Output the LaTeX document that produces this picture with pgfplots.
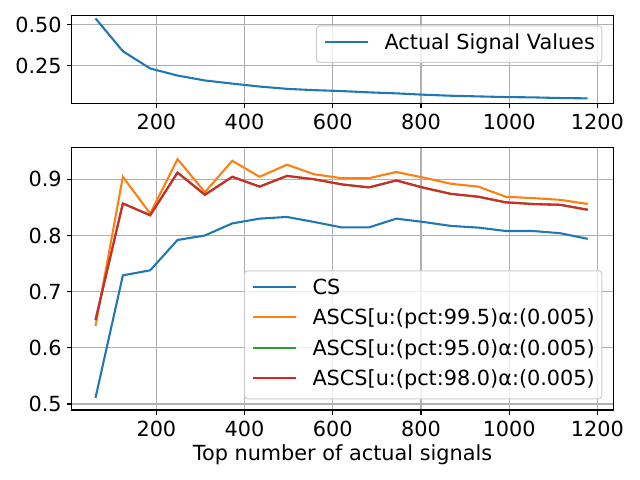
\documentclass[border=0pt]{standalone}
\usepackage{fontspec}
\setmainfont{DejaVu Sans}
\usepackage{pgfplots}
\pgfplotsset{compat=1.18}
\definecolor{c0}{HTML}{1F77B4}
\definecolor{c1}{HTML}{FF7F0E}
\definecolor{c2}{HTML}{2CA02C}
\definecolor{c3}{HTML}{D62728}
\definecolor{gridc}{HTML}{B0B0B0}
\definecolor{legc}{HTML}{CCCCCC}

\pgfplotsset{
  mystyle/.style={
    scale only axis, width=541.6bp, anchor=south west,
    xmin=8, xmax=1236,
    axis line style={black, line width=1.1bp},
    tick align=outside, major tick length=4.86bp,
    tick style={black, line width=1.1bp},
    xtick={200,400,600,800,1000,1200},
    xtick pos=left, ytick pos=left,
    grid=major, major grid style={gridc, line width=1.1bp},
    /pgf/number format/assume math mode=true,
    xticklabel style={/pgf/number format/1000 sep={}, inner sep=0pt, anchor=north, yshift=-5.84bp},
    yticklabel style={inner sep=0pt, anchor=east, xshift=-4.94bp},
    legend cell align=left,
    legend image code/.code={\draw[##1] (0bp,7.5bp) -- (43.4bp,7.5bp);},
    legend style={draw=legc, line width=1bp, rounded corners=3bp, fill=white, fill opacity=0.8, text opacity=1, draw opacity=1,
      inner xsep=7bp, inner ysep=8bp, row sep=10bp, column sep=15.5bp,
      nodes={inner sep=0pt, text height=15.5bp, text depth=5bp, anchor=base west}},
    every axis plot/.append style={line width=2.08bp},
  }
}

\begin{document}
\begin{tikzpicture}[font=\fontsize{20.8bp}{25bp}\selectfont]
\path[use as bounding box] (0,0) rectangle (640bp,480bp);

\begin{axis}[mystyle, at={(71.7bp,376.7bp)}, height=88bp,
  ymin=0.02, ymax=0.556, ytick={0.25,0.5},
  yticklabel style={/pgf/number format/fixed, /pgf/number format/fixed zerofill, /pgf/number format/precision=2},
  legend style={at={(0.9797,0.886)}, anchor=north east}]
\addplot[c0] coordinates {
(62,0.537) (124,0.337) (186,0.232) (248,0.189) (310,0.159) (372,0.140) (434,0.122)
(496,0.108) (558,0.100) (620,0.0945) (682,0.0866) (744,0.0805) (806,0.0723) (868,0.066)
(930,0.062) (992,0.058) (1054,0.056) (1116,0.052) (1178,0.050)};
\addlegendentry{Actual Signal Values}
\end{axis}

\begin{axis}[mystyle, at={(71.7bp,70bp)}, height=262.7bp,
  ymin=0.4893, ymax=0.957, ytick={0.5,0.6,0.7,0.8,0.9},
  yticklabel style={/pgf/number format/fixed, /pgf/number format/fixed zerofill, /pgf/number format/precision=1},
  xlabel={Top number of actual signals},
  xlabel style={at={(axis description cs:0.5,0)}, anchor=base, inner sep=0pt, yshift=-50.7bp},
  legend style={at={(0.9797,0.0407)}, anchor=south east}]
\addplot[c0] coordinates {
(62,0.511) (124,0.729) (186,0.738) (248,0.792) (310,0.800) (372,0.8215) (434,0.830)
(496,0.833) (558,0.824) (620,0.8144) (682,0.8144) (744,0.830) (806,0.824) (868,0.817)
(930,0.814) (992,0.808) (1054,0.808) (1116,0.804) (1178,0.794)};
\addlegendentry{CS}
\addplot[c1] coordinates {
(62,0.639) (124,0.9045) (186,0.839) (248,0.936) (310,0.877) (372,0.933) (434,0.9045)
(496,0.926) (558,0.909) (620,0.902) (682,0.902) (744,0.913) (806,0.903) (868,0.892)
(930,0.887) (992,0.869) (1054,0.8665) (1116,0.8635) (1178,0.856)};
\addlegendentry{ASCS[u:(pct:99.5)α:(0.005)}
\addplot[c2] coordinates {
(62,0.6495) (124,0.857) (186,0.836) (248,0.912) (310,0.8725) (372,0.9045) (434,0.887)
(496,0.906) (558,0.900) (620,0.891) (682,0.8856) (744,0.898) (806,0.885) (868,0.874)
(930,0.869) (992,0.859) (1054,0.856) (1116,0.8546) (1178,0.8458)};
\addlegendentry{ASCS[u:(pct:95.0)α:(0.005)}
\addplot[c3] coordinates {
(62,0.6495) (124,0.857) (186,0.836) (248,0.912) (310,0.8725) (372,0.9045) (434,0.887)
(496,0.906) (558,0.900) (620,0.891) (682,0.8856) (744,0.898) (806,0.885) (868,0.874)
(930,0.869) (992,0.859) (1054,0.856) (1116,0.8546) (1178,0.8458)};
\addlegendentry{ASCS[u:(pct:98.0)α:(0.005)}
\end{axis}
\end{tikzpicture}
\end{document}
